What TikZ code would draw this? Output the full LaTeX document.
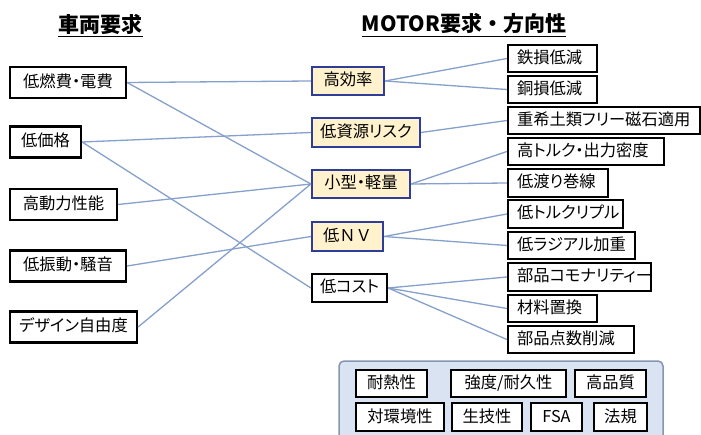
\documentclass[tikz,border=0pt]{standalone}
\usepackage{fontspec}
\setmainfont{Noto Sans CJK JP}[RawFeature=+palt]
\newfontfamily\plainjp{Noto Sans CJK JP}
\definecolor{conn}{HTML}{86A0CC}
\definecolor{midborder}{HTML}{2F3C98}
\definecolor{midfill}{HTML}{FFF2CC}
\definecolor{panelfill}{HTML}{DAE3F1}
\definecolor{panelborder}{HTML}{8496B0}
\tikzset{
  box/.style={draw=black, line width=2.2pt, fill=white, inner sep=0pt, minimum height=30pt,
    font=\fontsize{16.3}{18}\selectfont, text height=12.5pt, text depth=2.5pt},
  lbox/.style={box, minimum height=31pt},
  mbox/.style={box, draw=midborder, fill=midfill, minimum height=28.5pt},
  rbox/.style={box, minimum height=27.5pt, inner xsep=9pt, align=left},
  bbox/.style={box, minimum height=27.5pt},
  link/.style={draw=conn, line width=1.3pt},
  title/.style={font=\fontsize{21}{24}\selectfont\bfseries, inner sep=0pt}
}
\begin{document}
\begin{tikzpicture}[x=1pt,y=-1pt]
\useasboundingbox (0,0) rectangle (701,435);
% titles
\node[title] (t1) at (100.5,24) {車両要求};
\node[title] (t2) at (464,24) {\plainjp\bfseries MOTOR要求・方向性};
\draw[line width=1.3pt] ([yshift=-2pt]t1.south west) -- ([yshift=-2pt]t1.south east);
\draw[line width=1.3pt] ([yshift=-2pt]t2.south west) -- ([yshift=-2pt]t2.south east);
% bottom panel
\fill[panelfill, rounded corners=5pt] (339,440) -- (339,361) -- (663,361) -- (663,440);
\draw[panelborder, line width=1.5pt, rounded corners=5pt] (339,436) -- (339,361) -- (663,361) -- (663,436);
% left boxes
\node[lbox, minimum width=116pt] (L1) at (68,82.5) {低燃費・電費};
\node[lbox, minimum width=71pt] (L2) at (45.5,142) {低価格};
\node[lbox, minimum width=107pt] (L3) at (63.5,204.5) {高動力性能};
\node[lbox, minimum width=116pt] (L4) at (68,266) {低振動・騒音};
\node[lbox, minimum width=127pt] (L5) at (73.5,327) {デザイン自由度};
% middle boxes
\node[mbox, minimum width=72pt] (M1) at (348,81) {高効率};
\node[mbox, minimum width=108pt] (M2) at (366,132.5) {低資源リスク};
\node[mbox, minimum width=98pt] (M3) at (361,184) {小型・軽量};
\node[mbox, minimum width=71pt] (M4) at (347.5,236.5) {\plainjp 低ＮＶ};
\node[box, minimum width=75pt, minimum height=28.5pt] (M5) at (349.5,288) {低コスト};
% right boxes
\node[rbox, text width=71pt] (R1) at (552.5,58.5) {鉄損低減};
\node[rbox, text width=71pt] (R2) at (552.5,89.5) {銅損低減};
\node[rbox, text width=174pt] (R3) at (604,120.5) {重希土類フリー磁石適用};
\node[rbox, text width=138pt] (R4) at (586,151.5) {高トルク・出力密度};
\node[rbox, text width=82pt] (R5) at (558,183) {低渡り巻線};
\node[rbox, text width=97pt] (R6) at (565.5,214) {低トルクリプル};
\node[rbox, text width=109pt] (R7) at (571.5,245.5) {低ラジアル加重};
\node[rbox, text width=125pt] (R8) at (579.5,277) {部品コモナリティー};
\node[rbox, text width=71pt] (R9) at (552.5,308.5) {材料置換};
\node[rbox, text width=108pt] (R10) at (571,339.5) {部品点数削減};
% bottom boxes
\node[bbox, minimum width=71pt] (B1) at (391.5,383.5) {耐熱性};
\node[bbox, minimum width=115pt] (B2) at (508.5,383.5) {強度/耐久性};
\node[bbox, minimum width=71pt] (B3) at (610.5,383.5) {高品質};
\node[bbox, minimum width=88pt] (B4) at (400,417) {対環境性};
\node[bbox, minimum width=70pt] (B5) at (487,417) {生技性};
\node[bbox, minimum width=51pt] (B6) at (556.5,417) {FSA};
\node[bbox, minimum width=53pt] (B7) at (620.5,417) {法規};
% left to middle links
\draw[link] (L1.east) -- (M1.west);
\draw[link] (L1.east) -- (M3.west);
\draw[link] (L2.east) -- (M2.west);
\draw[link] (L2.east) -- (M5.west);
\draw[link] (L3.east) -- (M3.west);
\draw[link] (L4.east) -- (M4.west);
\draw[link] (L5.east) -- (M3.west);
% middle to right links
\draw[link] (M1.east) -- (R1.west);
\draw[link] (M1.east) -- (R2.west);
\draw[link] (M2.east) -- (R3.west);
\draw[link] (M3.east) -- (R4.west);
\draw[link] (M3.east) -- (R5.west);
\draw[link] (M4.east) -- (R6.west);
\draw[link] (M4.east) -- (R7.west);
\draw[link] (M5.east) -- (R8.west);
\draw[link] (M5.east) -- (R9.west);
\draw[link] (M5.east) -- (R10.west);
\end{tikzpicture}
\end{document}
